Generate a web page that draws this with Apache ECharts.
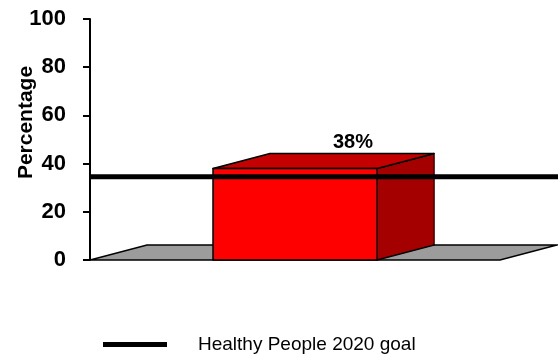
<!DOCTYPE html>
<html>
<head>
<meta charset="utf-8">
<script src="https://cdn.jsdelivr.net/npm/echarts@6/dist/echarts.min.js"></script>
<style>
  html, body { margin: 0; padding: 0; background: #fff; }
  #chart { width: 558px; height: 354px; }
</style>
</head>
<body>
<div id="chart"></div>
<script>
// Chart data
const categories = [''];
const barValues = [38];
const goalValue = 34.5;
const goalName = 'Healthy People 2020 goal';
const yTicks = { min: 0, max: 100, interval: 20 };

const FONT = '"Liberation Sans", Arial, sans-serif';
// Oblique offset used to fake depth for the floor and the box
const DX = 57, DY = -15;

const chart = echarts.init(document.getElementById('chart'), null, { renderer: 'canvas' });

function renderFloor(params, api) {
  const cs = params.coordSys;
  const y0 = api.coord([0, 0])[1];
  const xl = cs.x, xr = cs.x + cs.width;
  return {
    type: 'polygon',
    shape: { points: [[xl, y0], [xr, y0], [xr + DX, y0 + DY], [xl + DX, y0 + DY]] },
    style: { fill: '#9c9c9c', stroke: '#000', lineWidth: 1.5 }
  };
}

function renderBox(params, api) {
  const cat = api.value(0);
  const val = api.value(1);
  const base = api.coord([cat, 0]);
  const top = api.coord([cat, val]);
  const band = api.size([1, 0])[0];
  const w = band * 0.4;
  const x0 = base[0] - w / 2, x1 = base[0] + w / 2;
  const yb = base[1], yt = top[1];
  const edge = { stroke: '#000', lineWidth: 1.5, lineJoin: 'round' };
  return {
    type: 'group',
    children: [
      {
        type: 'polygon',
        shape: { points: [[x1, yt], [x1 + DX, yt + DY], [x1 + DX, yb + DY], [x1, yb]] },
        style: Object.assign({ fill: '#a40000' }, edge)
      },
      {
        type: 'polygon',
        shape: { points: [[x0, yt], [x1, yt], [x1 + DX, yt + DY], [x0 + DX, yt + DY]] },
        style: Object.assign({ fill: '#c40000' }, edge)
      },
      {
        type: 'rect',
        shape: { x: x0, y: yt, width: w, height: yb - yt },
        style: Object.assign({ fill: '#ff0000' }, edge)
      },
      {
        type: 'text',
        x: x1 - 24,
        y: yt - 26,
        style: {
          text: val + '%',
          fill: '#000',
          font: 'bold 20px ' + FONT,
          align: 'center',
          verticalAlign: 'middle'
        }
      }
    ]
  };
}

function renderGoal(params, api) {
  const cs = params.coordSys;
  const y = api.coord([0, api.value(1)])[1];
  return {
    type: 'line',
    shape: { x1: cs.x, y1: y, x2: api.getWidth(), y2: y },
    style: { stroke: '#000', lineWidth: 5 }
  };
}

chart.setOption({
  animation: false,
  backgroundColor: '#fff',
  textStyle: { fontFamily: FONT },
  grid: { left: 90, right: 58, top: 19, bottom: 94, containLabel: false, outerBoundsMode: 'none' },
  legend: {
    data: [goalName],
    left: 98,
    top: 330,
    icon: 'rect',
    itemWidth: 64,
    itemHeight: 5,
    textStyle: { fontSize: 19, color: '#000', fontFamily: FONT, padding: [0, 0, 0, 26] }
  },
  xAxis: {
    type: 'category',
    data: categories,
    axisLine: { show: false },
    axisTick: { show: false },
    axisLabel: { show: false },
    splitLine: { show: false }
  },
  yAxis: {
    type: 'value',
    min: yTicks.min,
    max: yTicks.max,
    interval: yTicks.interval,
    name: 'Percentage',
    nameLocation: 'middle',
    nameGap: 53,
    nameMoveOverlap: false,
    nameTextStyle: {
      fontSize: 21, fontWeight: 'bold', color: '#000', fontFamily: FONT,
      padding: [0, 0, 0, 34]
    },
    axisLine: { show: true, lineStyle: { color: '#000', width: 2 } },
    axisTick: { show: true, length: 7, lineStyle: { color: '#000', width: 2 } },
    axisLabel: { fontSize: 22, fontWeight: 'bold', color: '#000', margin: 24, fontFamily: FONT },
    splitLine: { show: false }
  },
  series: [
    {
      type: 'custom',
      name: 'floor',
      renderItem: renderFloor,
      data: [[0, 0]],
      z: 1,
      silent: true
    },
    {
      type: 'custom',
      name: 'Percentage',
      renderItem: renderBox,
      data: categories.map((c, i) => [i, barValues[i]]),
      z: 2
    },
    {
      type: 'custom',
      name: goalName,
      renderItem: renderGoal,
      itemStyle: { color: '#000' },
      data: [[0, goalValue]],
      z: 3
    }
  ]
});
</script>
</body>
</html>
